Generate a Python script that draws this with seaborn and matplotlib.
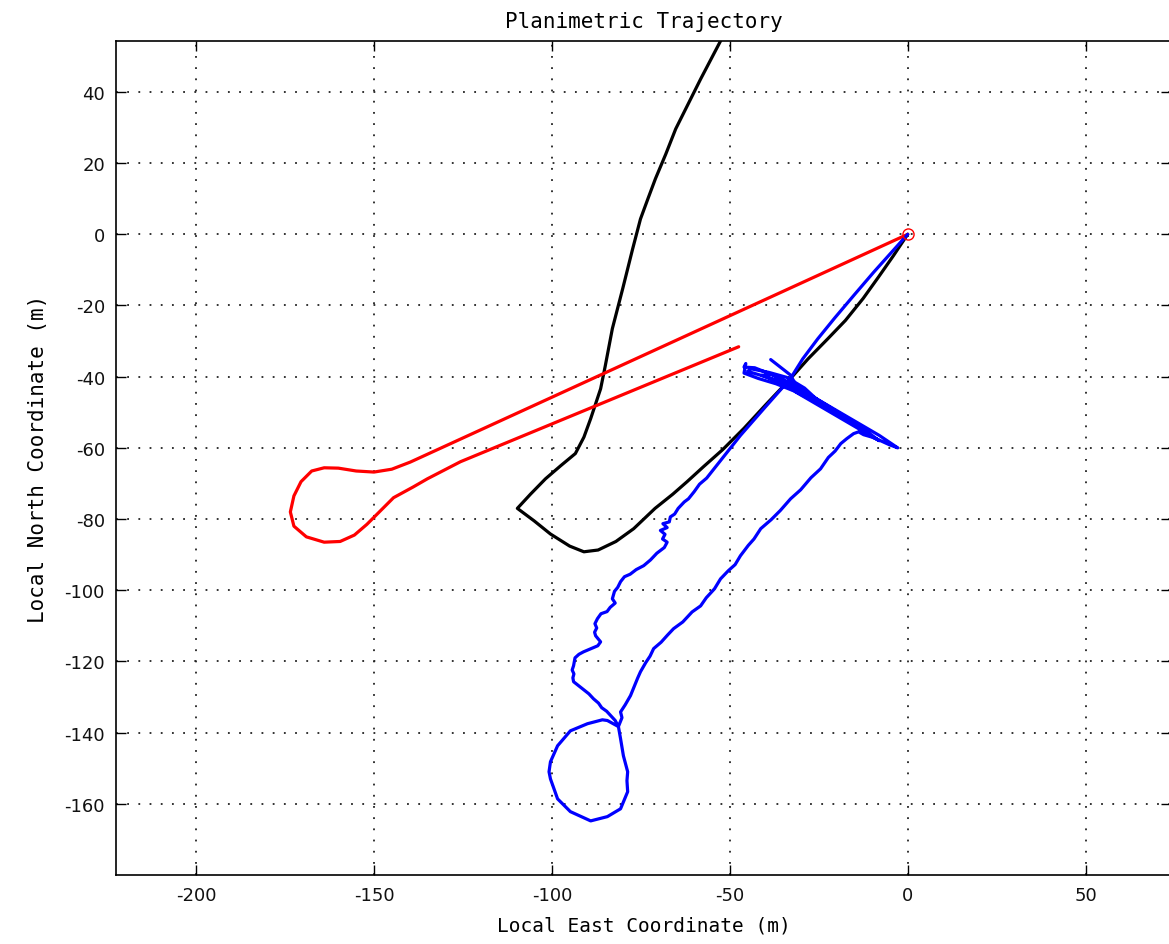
import matplotlib
matplotlib.use("Agg")
import matplotlib.pyplot as plt
import seaborn as sns
import pandas as pd

# Trajectory samples, local east / north in metres
black_east = [0, -4, -8.2, -12.5, -17.5, -22.5, -28, -33, -40, -46, -52, -57.4, -62, -66, -71,
              -77, -82, -87, -91, -95, -100.4, -105, -109.7, -106, -101.8, -97.5, -93.4, -91,
              -89.1, -87.5, -86.3, -85, -83, -80.1, -77.3, -75.1, -73, -70.9, -68, -65.2,
              -61.5, -58.2, -52.6, -49]
black_north = [0, -6, -12, -18, -24.2, -29.4, -35, -40.6, -48, -54.5, -60.5, -65.3, -69.5, -73, -77,
               -82.7, -86.3, -88.7, -89.2, -87.6, -84.2, -80.5, -77, -73, -68.7, -65, -61.6, -57,
               -51.8, -47, -43.4, -37, -26.5, -15.3, -4.1, 4.3, 10, 15.6, 22.5, 29.6,
               37, 43.6, 54.3, 61]

red_east = [0, -139.8, -145, -150, -155, -160, -164, -167.5, -170.5, -172.5, -173.5, -172.5,
            -169, -164, -159.5, -155.5, -152, -148, -144.5, -139, -135, -125.7, -47.5]
red_north = [0, -64, -66, -66.8, -66.5, -65.7, -65.6, -66.5, -69.5, -73.5, -78, -82,
             -85, -86.5, -86.3, -84.5, -81.5, -77.5, -74, -71, -68.7, -63.9, -31.6]

blue_east = [
    # outbound leg
    0, -4.5, -9.6, -15, -20.5, -25.3, -29.5, -33, -40, -47, -54.6,
    -56.5, -58.5, -60, -61.6, -62.8, -64.5, -65.5, -66.7, -67, -68.8, -67.6, -69.5, -68.2,
    -68.9, -67.6, -68.4, -70.5, -72.3, -74.2, -76.3, -78, -79.6, -80.7, -81.5, -82.4, -83,
    -82.2, -83.6, -84.5, -86.2, -87.2, -87.9, -87.4, -88, -87.7, -86.3, -87.1, -88.5, -91.1,
    -92.4, -93.5, -93.9, -94.3, -93.8, -94.1, -93.9, -92.5, -91, -89.6, -88.3, -86.9, -86,
    -84.6, -83.5, -82.2, -81.3,
    # loop
    -84.4, -85.8, -90, -94.8, -98.4, -100.4, -100.8, -100.4, -98.4, -94.8, -89.1,
    -84.4, -80.7, -78.7, -78.9, -78.7, -79.9, -80.7, -81.3,
    # return leg
    -80.3, -80.7, -79.4, -77.9, -76.8, -75.9, -75.1, -73.6, -72.4, -71.4, -69.3, -67.5, -65.8,
    -63.2, -60.6, -58.2, -56.6, -54.3, -52.6, -50.4, -48.5, -47, -44.8, -43.2, -41.3, -38.4,
    -35.8, -32.9, -30.1, -27.2, -24.5, -22.3, -20.4, -18.8, -17.1, -15.2, -13.8, -12.4, -10,
    -7.6, -5.2, -2.8,
    # back-and-forth segment
    -8, -14, -20, -26, -32, -38, -43, -46, -45.5, -46, -42, -37, -32, -26, -20, -14, -8,
    -12, -18, -24, -30, -35, -40, -45, -44, -39, -34, -29, -24, -30, -36, -41, -38, -33,
    -28, -22, -16, -20, -26, -31, -33, -38.5]
blue_north = [
    0, -5, -10.7, -17, -23.5, -29.4, -35, -40.6, -48.5, -56.5, -66.1,
    -68.5, -70.2, -72.3, -74.3, -75.2, -77, -78.6, -79.4, -80.8, -81.3, -82.4, -83.2, -84.3,
    -85.6, -86.5, -88, -89.6, -91.5, -93.1, -94.2, -95.5, -96.2, -97.6, -99.2, -100.3, -102.4,
    -103.6, -104.8, -106, -106.6, -108, -109.4, -110.6, -111.8, -112.8, -114.5, -115.6, -116.2, -117.3,
    -118, -119, -121.2, -122.4, -123.5, -124.6, -125.7, -126.8, -128, -129.1, -130.5, -131.7, -133,
    -134, -135.2, -136.6, -138.3,
    -136.6, -136.4, -137.5, -139.5, -143.7, -148.2, -151, -153, -158.6, -162.2, -164.8,
    -163.6, -161.4, -156.6, -153.5, -151, -146.5, -141.7, -138.3,
    -135.8, -134.2, -132.2, -129.6, -126.9, -124.7, -122.9, -120.3, -118.5, -116.4, -114.6, -112.6, -110.8,
    -108.9, -106.1, -104.4, -102.1, -99.6, -96.8, -94.5, -92.8, -90.3, -87.4, -85.6, -82.7, -80.2,
    -77.6, -74.3, -71.8, -68.4, -65.9, -62.7, -60.9, -58.8, -57.4, -56, -55.5, -56.3, -57,
    -58, -59.1, -60,
    -56.5, -53, -49.5, -46, -42.5, -39.5, -37.5, -37.3, -36.3, -39, -40.5, -42, -44, -47.5, -51, -54.5, -58,
    -55, -51, -47.5, -44.5, -41.5, -40, -38.5, -37.8, -38.8, -40.2, -43.2, -47.8, -45, -41.6, -39.6, -39.4, -41.8,
    -44.8, -48.5, -52.5, -50.5, -46.5, -43, -39.5, -35.2]

east_ticks = [-200, -150, -100, -50, 0, 50]
north_ticks = [40, 20, 0, -20, -40, -60, -80, -100, -120, -140, -160]

sns.set_theme(style="white")
plt.rcParams["font.family"] = ["DejaVu Sans", "DejaVu Sans Mono"]

W, H = 1169, 945
fig = plt.figure(figsize=(W / 100, H / 100), dpi=100)
ax = fig.add_axes([116 / W, 69 / H, (1171 - 116) / W, (876 - 42) / H])

tracks = [
    (black_east, black_north, "black"),
    (red_east, red_north, "#ff0000"),
    (blue_east, blue_north, "#0000ff"),
]
for east, north, color in tracks:
    df = pd.DataFrame({"east": east, "north": north})
    sns.lineplot(data=df, x="east", y="north", sort=False, estimator=None,
                 color=color, linewidth=2.3, ax=ax, zorder=3)

# Start point marker
ax.plot([0], [0], marker="o", markersize=8, markerfacecolor="none",
        markeredgecolor="#ff0000", markeredgewidth=1.0, linestyle="none", zorder=4)

ax.set_xlim(-222.5, 74.0)
ax.set_ylim(-180.0, 54.3)
ax.set_xticks(east_ticks)
ax.set_yticks(north_ticks)
ax.set_xticklabels([str(t) for t in east_ticks])
ax.set_yticklabels([str(t) for t in north_ticks])

ax.grid(True, color="#222222", linewidth=1.3, linestyle=(0, (1, 5.2)))
ax.set_axisbelow(True)

ax.tick_params(direction="in", length=7.5, width=1.0, color="black",
               top=True, right=True, bottom=True, left=True,
               labelsize=13, pad=8, labelcolor="#111111")
for sp in ax.spines.values():
    sp.set_color("black")
    sp.set_linewidth(1.2)
    sp.set_visible(True)

mono = "DejaVu Sans Mono"
ax.set_title("Planimetric Trajectory", fontsize=15, family=mono, pad=10, color="black")
ax.set_xlabel("Local East Coordinate (m)", fontsize=14, family=mono, labelpad=8, color="black")
ax.set_ylabel("Local North Coordinate (m)", fontsize=15, family=mono, labelpad=12, color="black")

fig.savefig("out.png", dpi=100, facecolor="white")
